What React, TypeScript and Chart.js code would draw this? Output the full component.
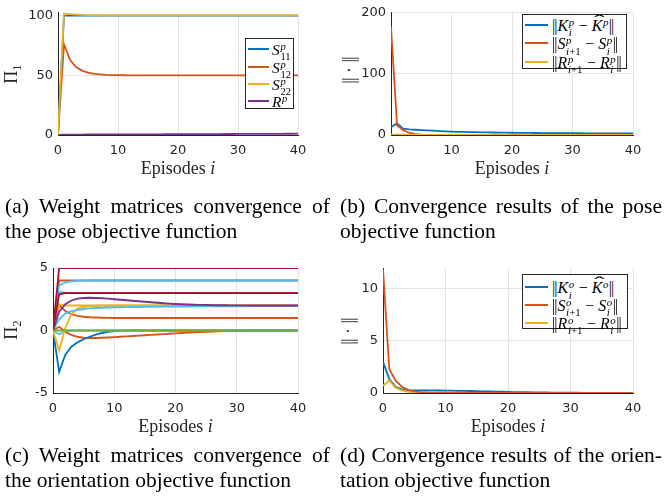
import React, { useEffect, useRef } from 'react';
import { Chart, registerables } from 'chart.js';

Chart.register(...registerables);

// ---------------- DATA ----------------
const EPISODES = [0, 1, 2, 3, 4, 5, 6, 7, 8, 9, 10,
  11, 12, 13, 14, 15, 16, 17, 18, 19, 20,
  21, 22, 23, 24, 25, 26, 27, 28, 29, 30,
  31, 32, 33, 34, 35, 36, 37, 38, 39, 40];
const X_TICKS = [0, 10, 20, 30, 40];

// (a) pose weight matrices
const A_YTICKS = [0, 50, 100];
const S11_P = [0, 100, 100, 100, 100, 100, 100, 100, 100, 100, 100,
  100, 100, 100, 100, 100, 100, 100, 100, 100, 100,
  100, 100, 100, 100, 100, 100, 100, 100, 100, 100,
  100, 100, 100, 100, 100, 100, 100, 100, 100, 100];
const S12_P = [0, 76, 63, 57, 54, 52.3, 51.3, 50.8, 50.4, 50.2, 50.1,
  50.05, 50, 50, 50, 50, 50, 50, 50, 50, 50,
  50, 50, 50, 50, 50, 50, 50, 50, 50, 50,
  50, 50, 50, 50, 50, 50, 50, 50, 50, 50];
const S22_P = [0, 102.3, 101.3, 100.9, 100.6, 100.5, 100.4, 100.35, 100.3, 100.3, 100.3,
  100.3, 100.3, 100.3, 100.3, 100.3, 100.3, 100.3, 100.3, 100.3, 100.3,
  100.3, 100.3, 100.3, 100.3, 100.3, 100.3, 100.3, 100.3, 100.3, 100.3,
  100.3, 100.3, 100.3, 100.3, 100.3, 100.3, 100.3, 100.3, 100.3, 100.3];
const R_P = [0, 0.3, 0.3, 0.35, 0.35, 0.4, 0.4, 0.4, 0.45, 0.45, 0.5,
  0.5, 0.5, 0.55, 0.55, 0.6, 0.6, 0.6, 0.65, 0.65, 0.7,
  0.7, 0.7, 0.75, 0.75, 0.8, 0.8, 0.8, 0.85, 0.85, 0.9,
  0.9, 0.9, 0.95, 0.95, 1, 1, 1, 1.05, 1.05, 1.1];

// (b) pose convergence
const B_YTICKS = [0, 100, 200];
const KDIFF_P = [13, 19, 10.5, 9.3, 8.6, 8, 7.5, 7, 6.5, 6, 5.5,
  5.2, 5, 4.8, 4.6, 4.4, 4.2, 4.1, 4, 3.8, 3.7,
  3.6, 3.5, 3.4, 3.3, 3.2, 3.1, 3.05, 3, 2.95, 2.9,
  2.85, 2.8, 2.75, 2.7, 2.65, 2.6, 2.6, 2.55, 2.55, 2.5];
const SDIFF_P = [177, 16, 8, 3.7, 1.5, 0.6, 0.3, 0.15, 0.08, 0.04, 0.02,
  0.01, 0, 0, 0, 0, 0, 0, 0, 0, 0,
  0, 0, 0, 0, 0, 0, 0, 0, 0, 0,
  0, 0, 0, 0, 0, 0, 0, 0, 0, 0];
const RDIFF_P = [0.5, 0.8, 0.4, 0.2, 0.1, 0.05, 0.02, 0.01, 0, 0, 0,
  0, 0, 0, 0, 0, 0, 0, 0, 0, 0,
  0, 0, 0, 0, 0, 0, 0, 0, 0, 0,
  0, 0, 0, 0, 0, 0, 0, 0, 0, 0];

// (c) orientation weight matrices
const C_YTICKS = [-5, 0, 5];
const C_RED5 = [0, 5, 5, 5, 5, 5, 5, 5, 5, 5, 5,
  5, 5, 5, 5, 5, 5, 5, 5, 5, 5,
  5, 5, 5, 5, 5, 5, 5, 5, 5, 5,
  5, 5, 5, 5, 5, 5, 5, 5, 5, 5];
const C_RED3 = [0, 2.9, 3, 3, 3, 3, 3, 3, 3, 3, 3,
  3, 3, 3, 3, 3, 3, 3, 3, 3, 3,
  3, 3, 3, 3, 3, 3, 3, 3, 3, 3,
  3, 3, 3, 3, 3, 3, 3, 3, 3, 3];
const C_ORANGE4 = [0, 4, 4, 4, 4, 4, 4, 4, 4, 4, 4,
  4, 4, 4, 4, 4, 4, 4, 4, 4, 4,
  4, 4, 4, 4, 4, 4, 4, 4, 4, 4,
  4, 4, 4, 4, 4, 4, 4, 4, 4, 4];
const C_CYAN4 = [0, 3.6, 3.85, 3.93, 3.97, 3.99, 4, 4, 4, 4, 4,
  4, 4, 4, 4, 4, 4, 4, 4, 4, 4,
  4, 4, 4, 4, 4, 4, 4, 4, 4, 4,
  4, 4, 4, 4, 4, 4, 4, 4, 4, 4];
const C_CYAN3 = [0, 3.1, 3.02, 3, 3, 3, 3, 3, 3, 3, 3,
  3, 3, 3, 3, 3, 3, 3, 3, 3, 3,
  3, 3, 3, 3, 3, 3, 3, 3, 3, 3,
  3, 3, 3, 3, 3, 3, 3, 3, 3, 3];
const C_PURPLE = [0, 1.5, 2.1, 2.4, 2.55, 2.6, 2.62, 2.6, 2.58, 2.55, 2.5,
  2.46, 2.42, 2.38, 2.34, 2.3, 2.26, 2.22, 2.18, 2.15, 2.12,
  2.1, 2.08, 2.06, 2.05, 2.04, 2.03, 2.02, 2.02, 2.01, 2.01,
  2.01, 2, 2, 2, 2, 2, 2, 2, 2, 2];
const C_YELLOW2 = [0, 2.1, 2, 2, 2, 2, 2, 2, 2, 2, 2,
  2, 2, 2, 2, 2, 2, 2, 2, 2, 2,
  2, 2, 2, 2, 2, 2, 2, 2, 2, 2,
  2, 2, 2, 2, 2, 2, 2, 2, 2, 2];
const C_YELLOWDIP = [0, -1.6, 0.2, 1.3, 1.75, 1.9, 1.96, 1.98, 1.99, 2, 2,
  2, 2, 2, 2, 2, 2, 2, 2, 2, 2,
  2, 2, 2, 2, 2, 2, 2, 2, 2, 2,
  2, 2, 2, 2, 2, 2, 2, 2, 2, 2];
const C_ORANGE1 = [0, 2.05, 1.55, 1.3, 1.17, 1.1, 1.06, 1.04, 1.02, 1.01, 1,
  1, 1, 1, 1, 1, 1, 1, 1, 1, 1,
  1, 1, 1, 1, 1, 1, 1, 1, 1, 1,
  1, 1, 1, 1, 1, 1, 1, 1, 1, 1];
const C_CYAN2 = [0, 0.9, 1.35, 1.55, 1.65, 1.72, 1.77, 1.8, 1.82, 1.84, 1.85,
  1.86, 1.87, 1.88, 1.88, 1.89, 1.9, 1.9, 1.91, 1.91, 1.92,
  1.92, 1.92, 1.93, 1.93, 1.93, 1.93, 1.94, 1.94, 1.94, 1.94,
  1.94, 1.95, 1.95, 1.95, 1.95, 1.95, 1.95, 1.95, 1.95, 1.95];
const C_BLUEDIP = [0, -3.3, -1.95, -1.3, -0.95, -0.7, -0.5, -0.33, -0.2, -0.1, -0.04,
  -0.01, 0, 0, 0, 0, 0, 0, 0, 0, 0,
  0, 0, 0, 0, 0, 0, 0, 0, 0, 0,
  0, 0, 0, 0, 0, 0, 0, 0, 0, 0];
const C_ORANGENEG = [0, 0.3, -0.1, -0.35, -0.5, -0.58, -0.6, -0.6, -0.58, -0.56, -0.53,
  -0.5, -0.47, -0.44, -0.41, -0.38, -0.35, -0.32, -0.29, -0.26, -0.23,
  -0.2, -0.17, -0.14, -0.12, -0.1, -0.08, -0.06, -0.05, -0.04, -0.03,
  -0.02, -0.015, -0.01, -0.005, 0, 0, 0, 0, 0, 0];
const C_CYANDIP = [0, -0.3, -0.05, 0, 0, 0, 0, 0, 0, 0, 0,
  0, 0, 0, 0, 0, 0, 0, 0, 0, 0,
  0, 0, 0, 0, 0, 0, 0, 0, 0, 0,
  0, 0, 0, 0, 0, 0, 0, 0, 0, 0];
const C_GREEN0 = [0, 0, 0, 0, 0, 0, 0, 0, 0, 0, 0,
  0, 0, 0, 0, 0, 0, 0, 0, 0, 0,
  0, 0, 0, 0, 0, 0, 0, 0, 0, 0,
  0, 0, 0, 0, 0, 0, 0, 0, 0, 0];

// (d) orientation convergence
const D_YTICKS = [0, 5, 10];
const KDIFF_O = [3.0, 1.35, 0.6, 0.35, 0.28, 0.26, 0.26, 0.25, 0.25, 0.24, 0.23,
  0.22, 0.21, 0.2, 0.19, 0.18, 0.16, 0.15, 0.13, 0.12, 0.1,
  0.09, 0.08, 0.07, 0.06, 0.05, 0.05, 0.04, 0.04, 0.03, 0.03,
  0.03, 0.02, 0.02, 0.02, 0.02, 0.01, 0.01, 0.01, 0.01, 0.01];
const SDIFF_O = [11.9, 2.3, 1.2, 0.6, 0.3, 0.15, 0.08, 0.05, 0.03, 0.02, 0.01,
  0, 0, 0, 0, 0, 0, 0, 0, 0, 0,
  0, 0, 0, 0, 0, 0, 0, 0, 0, 0,
  0, 0, 0, 0, 0, 0, 0, 0, 0, 0];
const RDIFF_O = [0.7, 1.2, 0.5, 0.25, 0.12, 0.06, 0.03, 0.02, 0.01, 0, 0,
  0, 0, 0, 0, 0, 0, 0, 0, 0, 0,
  0, 0, 0, 0, 0, 0, 0, 0, 0, 0,
  0, 0, 0, 0, 0, 0, 0, 0, 0, 0];

// ---------------- STYLE ----------------
const W = 665;
const H = 502;
const BLUE = '#0072BD';
const ORANGE = '#D95319';
const YELLOW = '#EDB120';
const PURPLE = '#7E2F8E';
const GREEN = '#77AC30';
const CYAN = '#4DBEEE';
const DARKRED = '#A2142F';
const GRID = '#e3e3e3';
const AXIS = '#262626';
const SERIF = '"Liberation Serif", "Times New Roman", serif';
const TICK_FONT = { family: '"DejaVu Sans", sans-serif', size: 13 };

type Series = { data: number[]; color: string };
type Panel = {
  L: number; R: number; T: number; B: number;
  yMin: number; yMax: number; yTicks: number[];
  series: Series[];
};

const PANEL_A: Panel = {
  L: 58, R: 298, T: 8, B: 135, yMin: 0, yMax: 102.4, yTicks: A_YTICKS,
  series: [
    { data: S22_P, color: YELLOW },
    { data: S11_P, color: BLUE },
    { data: S12_P, color: ORANGE },
    { data: R_P, color: PURPLE },
  ],
};
const PANEL_B: Panel = {
  L: 391, R: 633, T: 9, B: 135, yMin: 0, yMax: 200, yTicks: B_YTICKS,
  series: [
    { data: RDIFF_P, color: YELLOW },
    { data: SDIFF_P, color: ORANGE },
    { data: KDIFF_P, color: BLUE },
  ],
};
const PANEL_C: Panel = {
  L: 53, R: 298, T: 268, B: 393, yMin: -5, yMax: 5, yTicks: C_YTICKS,
  series: [
    { data: C_RED5, color: DARKRED },
    { data: C_GREEN0, color: GREEN },
    { data: C_RED3, color: DARKRED },
    { data: C_CYAN4, color: CYAN },
    { data: C_ORANGE4, color: ORANGE },
    { data: C_CYAN3, color: CYAN },
    { data: C_PURPLE, color: PURPLE },
    { data: C_CYAN2, color: CYAN },
    { data: C_YELLOW2, color: YELLOW },
    { data: C_YELLOWDIP, color: YELLOW },
    { data: C_ORANGE1, color: ORANGE },
    { data: C_CYANDIP, color: CYAN },
    { data: C_BLUEDIP, color: BLUE },
    { data: C_ORANGENEG, color: ORANGE },
  ],
};
const PANEL_D: Panel = {
  L: 383, R: 633, T: 268, B: 393, yMin: 0, yMax: 12, yTicks: D_YTICKS,
  series: [
    { data: SDIFF_O, color: ORANGE },
    { data: RDIFF_O, color: YELLOW },
    { data: KDIFF_O, color: BLUE },
  ],
};

const YW = 45;
const XH = 30;

function PlotCanvas({ panel }: { panel: Panel }) {
  const ref = useRef<HTMLCanvasElement>(null);
  useEffect(() => {
    const chart = new Chart(ref.current as HTMLCanvasElement, {
      type: 'line',
      data: {
        labels: EPISODES,
        datasets: panel.series.map((s) => ({
          data: s.data,
          borderColor: s.color,
          backgroundColor: s.color,
          borderWidth: 1.8,
          pointRadius: 0,
          tension: 0,
          fill: false,
        })),
      },
      options: {
        responsive: false,
        animation: false,
        events: [],
        layout: {
          padding: {
            left: panel.L - YW,
            right: W - panel.R,
            top: panel.T,
            bottom: H - panel.B - XH,
          },
        },
        plugins: { legend: { display: false }, tooltip: { enabled: false } },
        scales: {
          x: {
            type: 'linear',
            min: 0,
            max: 40,
            afterFit: (s: any) => { s.height = XH; },
            afterBuildTicks: (s: any) => { s.ticks = X_TICKS.map((v) => ({ value: v })); },
            ticks: {
              font: TICK_FONT, color: AXIS, padding: 8, maxRotation: 0, autoSkip: false,
              callback: (v: any) => String(v),
            },
            grid: { color: GRID, drawTicks: false, lineWidth: 1 },
            border: { color: AXIS, width: 1 },
          },
          y: {
            type: 'linear',
            min: panel.yMin,
            max: panel.yMax,
            afterFit: (s: any) => { s.width = YW; },
            afterBuildTicks: (s: any) => { s.ticks = panel.yTicks.map((v) => ({ value: v })); },
            ticks: {
              font: TICK_FONT, color: AXIS, padding: 5, autoSkip: false,
              callback: (v: any) => String(v),
            },
            grid: { color: GRID, drawTicks: false, lineWidth: 1 },
            border: { color: AXIS, width: 1 },
          },
        },
      } as any,
    });
    return () => chart.destroy();
  }, [panel]);
  return (
    <canvas
      ref={ref}
      width={W}
      height={H}
      style={{ position: 'absolute', left: 0, top: 0, width: W, height: H }}
    />
  );
}

// ---------------- MATH HELPERS ----------------
function SS({ sup, sub }: { sup?: React.ReactNode; sub?: React.ReactNode }) {
  return (
    <span
      style={{
        display: 'inline-flex',
        flexDirection: 'column',
        verticalAlign: '5px',
        fontSize: '0.68em',
        lineHeight: 0.95,
        marginLeft: '0.06em',
        marginRight: '0.04em',
      }}
    >
      <span>{sup ?? '\u00a0'}</span>
      <span>{sub ?? '\u00a0'}</span>
    </span>
  );
}

function Hat({ children }: { children: React.ReactNode }) {
  return (
    <span style={{ position: 'relative', display: 'inline-block' }}>
      {children}
      <span
        style={{
          position: 'absolute',
          left: '0.12em',
          top: '-0.3em',
          fontStyle: 'normal',
          transform: 'scaleX(2)',
          transformOrigin: 'left center',
        }}
      >
        ˆ
      </span>
    </span>
  );
}

const I = ({ children }: { children: React.ReactNode }) => <i>{children}</i>;

function DBar() {
  return (
    <span style={{ fontStyle: 'normal', letterSpacing: '-0.06em', marginRight: '0.06em' }}>||</span>
  );
}

// ---------------- TEXT OVERLAYS ----------------
function XTitle({ cx, baseline }: { cx: number; baseline: number }) {
  return (
    <div
      style={{
        position: 'absolute', left: cx, top: baseline - 15.1, transform: 'translateX(-50%)',
        fontFamily: SERIF, fontSize: 18, lineHeight: '18px', whiteSpace: 'nowrap', color: '#262626',
      }}
    >
      Episodes <I>i</I>
    </div>
  );
}

function YTitle({ cx, cy, children }: { cx: number; cy: number; children: React.ReactNode }) {
  return (
    <div
      style={{
        position: 'absolute', left: cx, top: cy, transform: 'translate(-50%, -50%) rotate(-90deg)',
        fontFamily: SERIF, fontSize: 18, lineHeight: '18px', whiteSpace: 'nowrap', color: '#262626',
      }}
    >
      {children}
    </div>
  );
}

type LegendRow = { color: string; label: React.ReactNode };
function Legend({ left, top, width, height, rows, rowY, lineX0, lineX1, textX, fontSize }: {
  left: number; top: number; width: number; height: number; rows: LegendRow[];
  rowY: number[]; lineX0: number; lineX1: number; textX: number; fontSize: number;
}) {
  return (
    <div
      style={{
        position: 'absolute', left, top, width, height, boxSizing: 'border-box',
        border: '1px solid #262626', background: '#fff',
      }}
    >
      {rows.map((r, k) => (
        <React.Fragment key={k}>
          <div
            style={{
              position: 'absolute', left: lineX0 - left - 1, top: rowY[k] - top - 2,
              width: lineX1 - lineX0, height: 2, background: r.color,
            }}
          />
          <div
            style={{
              position: 'absolute', left: textX - left - 1, top: rowY[k] - top - 10,
              height: 20, lineHeight: '20px', fontFamily: SERIF, fontSize,
              whiteSpace: 'nowrap', color: '#000',
            }}
          >
            {r.label}
          </div>
        </React.Fragment>
      ))}
    </div>
  );
}

function Caption({ left, width, baseline, line1, line2 }: {
  left: number; width: number; baseline: number; line1: string; line2: string;
}) {
  const common: React.CSSProperties = {
    position: 'absolute', left, width, fontFamily: SERIF, fontSize: 21.5,
    lineHeight: '25px', color: '#000', whiteSpace: 'nowrap',
  };
  return (
    <>
      <div style={{ ...common, top: baseline - 19.8, textAlign: 'justify', textAlignLast: 'justify' as any, whiteSpace: 'normal' }}>
        {line1}
      </div>
      <div style={{ ...common, top: baseline + 25 - 19.8, textAlign: 'left' }}>{line2}</div>
    </>
  );
}

const bars = (content: React.ReactNode) => (
  <span><DBar />{content}<DBar /></span>
);

export default function App() {
  const legendP: LegendRow[] = [
    { color: BLUE, label: bars(<><I>K</I><SS sup={<I>p</I>} sub={<I>i</I>} /> − <Hat><I>K</I></Hat><SS sup={<I>p</I>} /></>) },
    { color: ORANGE, label: bars(<><I>S</I><SS sup={<I>p</I>} sub={<><I>i</I>+1</>} /> − <I>S</I><SS sup={<I>p</I>} sub={<I>i</I>} /></>) },
    { color: YELLOW, label: bars(<><I>R</I><SS sup={<I>p</I>} sub={<><I>i</I>+1</>} /> − <I>R</I><SS sup={<I>p</I>} sub={<I>i</I>} /></>) },
  ];
  const legendO: LegendRow[] = [
    { color: BLUE, label: bars(<><I>K</I><SS sup={<I>o</I>} sub={<I>i</I>} /> − <Hat><I>K</I></Hat><SS sup={<I>o</I>} /></>) },
    { color: ORANGE, label: bars(<><I>S</I><SS sup={<I>o</I>} sub={<><I>i</I>+1</>} /> − <I>S</I><SS sup={<I>o</I>} sub={<I>i</I>} /></>) },
    { color: YELLOW, label: bars(<><I>R</I><SS sup={<I>o</I>} sub={<><I>i</I>+1</>} /> − <I>R</I><SS sup={<I>o</I>} sub={<I>i</I>} /></>) },
  ];
  const legendA: LegendRow[] = [
    { color: BLUE, label: <><I>S</I><SS sup={<I>p</I>} sub="11" /></> },
    { color: ORANGE, label: <><I>S</I><SS sup={<I>p</I>} sub="12" /></> },
    { color: YELLOW, label: <><I>S</I><SS sup={<I>p</I>} sub="22" /></> },
    { color: PURPLE, label: <><I>R</I><SS sup={<I>p</I>} /></> },
  ];

  const normTitle = <span><DBar /> · <DBar /></span>;

  return (
    <div style={{ position: 'absolute', left: 0, top: 0, width: W, height: H, background: '#fff', overflow: 'hidden' }}>
      <PlotCanvas panel={PANEL_A} />
      <PlotCanvas panel={PANEL_B} />
      <PlotCanvas panel={PANEL_C} />
      <PlotCanvas panel={PANEL_D} />

      <XTitle cx={178} baseline={174.3} />
      <XTitle cx={512} baseline={174.3} />
      <XTitle cx={175.5} baseline={431.7} />
      <XTitle cx={508} baseline={431.7} />

      <YTitle cx={14} cy={74}><span>Π<sub style={{ fontSize: '0.7em' }}>1</sub></span></YTitle>
      <YTitle cx={349} cy={70}>{normTitle}</YTitle>
      <YTitle cx={14} cy={330}><span>Π<sub style={{ fontSize: '0.7em' }}>2</sub></span></YTitle>
      <YTitle cx={348} cy={331}>{normTitle}</YTitle>

      <Legend left={245} top={38} width={49} height={71} rows={legendA} fontSize={15.5}
        rowY={[49, 66.5, 84, 100.5]} lineX0={248} lineX1={269} textX={272} />
      <Legend left={522} top={14} width={105} height={55} rows={legendP} fontSize={16}
        rowY={[24.8, 43.3, 61.7]} lineX0={525} lineX1={548} textX={552} />
      <Legend left={522} top={274} width={106} height={55} rows={legendO} fontSize={16}
        rowY={[287.2, 305, 322.7]} lineX0={525} lineX1={548} textX={552} />

      <Caption left={5} width={325} baseline={213.3}
        line1="(a) Weight matrices convergence of" line2="the pose objective function" />
      <Caption left={340} width={322} baseline={213.3}
        line1="(b) Convergence results of the pose" line2="objective function" />
      <Caption left={5} width={325} baseline={463}
        line1="(c) Weight matrices convergence of" line2="the orientation objective function" />
      <Caption left={340} width={322} baseline={463}
        line1="(d) Convergence results of the orien-" line2="tation objective function" />
    </div>
  );
}
